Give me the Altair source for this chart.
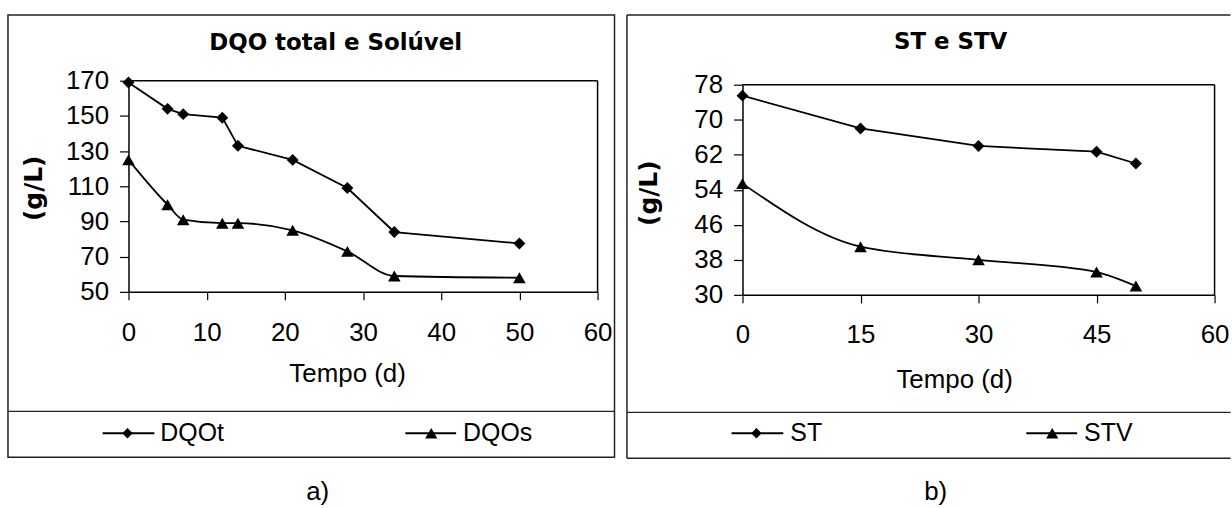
import altair as alt
import pandas as pd

# ---------------- data ----------------
dqo_dias = [0, 5, 7, 12, 14, 21, 28, 34, 50]
dqo_t = [169, 154, 151, 149, 133, 125, 109, 84, 77.5]
dqo_s = [125, 99.5, 91, 89, 89, 85, 73, 59, 58]

st_dias = [0, 15, 30, 45, 50]
st = [75.5, 68, 64, 62.7, 60]
stv = [55.4, 41, 38, 35.2, 32]

left_y_ticks = [50, 70, 90, 110, 130, 150, 170]
left_x_ticks = [0, 10, 20, 30, 40, 50, 60]
right_y_ticks = [30, 38, 46, 54, 62, 70, 78]
right_x_ticks = [0, 15, 30, 45, 60]

FONT = "Liberation Sans"
BOLD_FONT = "DejaVu Sans"
INK = "black"
FRAME = "#222222"


def panel(dias, s1, s2, names, title, caption, ydom, yticks, xticks, w, h, lay):
    df1 = pd.DataFrame({"dia": dias, "v": s1})
    df2 = pd.DataFrame({"dia": dias, "v": s2})
    one = pd.DataFrame({"k": [0]})
    top = lay["top"]

    xs = alt.X("dia:Q", scale=alt.Scale(domain=[0, 60], nice=False, zero=False),
               axis=alt.Axis(values=xticks, title=None, tickSize=8, labelPadding=lay["xpad"],
                             labelFontSize=26, labelFont=FONT, labelColor=INK, grid=False,
                             domainColor=INK, tickColor=INK, domainWidth=1.5, tickWidth=1.2,
                             labelFlush=False, labelOverlap=False))
    ys = alt.Y("v:Q", scale=alt.Scale(domain=ydom, nice=False, zero=False, range=[h, top]),
               axis=alt.Axis(values=yticks, title=None, tickSize=9, labelPadding=11,
                             labelFontSize=26, labelFont=FONT, labelColor=INK, grid=False,
                             domainColor=INK, tickColor=INK, domainWidth=1.5, tickWidth=1.2,
                             labelFlush=False, labelOverlap=False))

    l1 = alt.Chart(df1).mark_line(color=INK, strokeWidth=1.8).encode(x=xs, y=ys)
    p1 = alt.Chart(df1).mark_point(shape="diamond", filled=True, size=144, color=INK, opacity=1).encode(x=xs, y=ys)
    l2 = alt.Chart(df2).mark_line(color=INK, strokeWidth=1.8, interpolate="monotone").encode(x=xs, y=ys)
    p2 = alt.Chart(df2).mark_point(shape="triangle-up", filled=True, size=160, color=INK, opacity=1).encode(x=xs, y=ys)

    deco = []
    # plot-area border (top and right; left/bottom are the axis lines)
    deco.append(alt.Chart(one).mark_rule(color=INK, strokeWidth=1.5).encode(
        x=alt.value(0), x2=alt.value(w), y=alt.value(top)))
    deco.append(alt.Chart(one).mark_rule(color=INK, strokeWidth=1.5).encode(
        x=alt.value(w), y=alt.value(top), y2=alt.value(h)))

    bx0, bx1, by0, by1 = lay["box"]
    if lay["closed"]:
        deco.append(alt.Chart(one).mark_rect(fill=None, stroke=FRAME, strokeWidth=1.5).encode(
            x=alt.value(bx0), x2=alt.value(bx1), y=alt.value(by0), y2=alt.value(by1)))
    else:
        deco.append(alt.Chart(one).mark_rule(color=FRAME, strokeWidth=1.5).encode(
            x=alt.value(bx0), y=alt.value(by0), y2=alt.value(by1)))
        deco.append(alt.Chart(one).mark_rule(color=FRAME, strokeWidth=1.5).encode(
            x=alt.value(bx0), x2=alt.value(bx1), y=alt.value(by0)))
        deco.append(alt.Chart(one).mark_rule(color=FRAME, strokeWidth=1.5).encode(
            x=alt.value(bx0), x2=alt.value(bx1), y=alt.value(by1)))
    # legend separator
    deco.append(alt.Chart(one).mark_rule(color=FRAME, strokeWidth=1.2).encode(
        x=alt.value(bx0), x2=alt.value(bx1), y=alt.value(lay["sep"])))

    def txt(t, x, y, size, bold=False, align="center", baseline="alphabetic", angle=0, font=FONT):
        kw = dict(text=t, fontSize=size, font=font, color=INK, align=align, baseline=baseline)
        if bold:
            kw["fontWeight"] = "bold"
        if angle:
            kw["angle"] = angle
        return alt.Chart(one).mark_text(**kw).encode(x=alt.value(x), y=alt.value(y))

    tx, ty = lay["title"]
    deco.append(txt(title, tx, ty, 23, bold=True, font=BOLD_FONT))
    ax, ay = lay["xtitle"]
    deco.append(txt("Tempo (d)", ax, ay, 26))
    gx, gy = lay["ytitle"]
    deco.append(txt("(g/L)", gx, gy, 25, bold=True, baseline="middle", angle=270, font=BOLD_FONT))
    cx, cy = lay["caption"]
    deco.append(txt(caption, cx, cy, 26))

    # legend entries
    ly = lay["leg_y"]
    for (x0, x1, mx, tx0), shape, size, name in zip(lay["leg"], ["diamond", "triangle-up"], [110, 150], names):
        deco.append(alt.Chart(one).mark_rule(color=INK, strokeWidth=1.8).encode(
            x=alt.value(x0), x2=alt.value(x1), y=alt.value(ly)))
        deco.append(alt.Chart(one).mark_point(shape=shape, filled=True, size=size, color=INK, opacity=1).encode(
            x=alt.value(mx), y=alt.value(ly)))
        deco.append(txt(name, tx0, ly, 25, align="left", baseline="middle"))

    return alt.layer(l1, p1, l2, p2, *deco).properties(width=w, height=h)


left = panel(
    dqo_dias, dqo_t, dqo_s, ["DQOt", "DQOs"], "DQO total e Solúvel", "a)",
    [50, 170], left_y_ticks, left_x_ticks, 471, 212,
    dict(top=0, xpad=20, closed=True, box=(-121, 488, -66, 378), sep=332,
         title=(208, -31), xtitle=(220, 303), ytitle=(-95, 108), caption=(190, 421),
         leg_y=354, leg=[(-26, 26, -1, 32), (278, 329, 304, 336)]),
)

right = panel(
    st_dias, st, stv, ["ST", "STV"], "ST e STV", "b)",
    [30, 78], right_y_ticks, right_x_ticks, 474, 215,
    dict(top=4, xpad=19, closed=False, box=(-116, 490, -66, 379), sep=333,
         title=(209, -32), xtitle=(213, 309), ytitle=(-94, 113), caption=(194, 421),
         leg_y=354, leg=[(-11, 41, 14, 48), (285, 336, 311, 343)]),
)

chart = alt.hconcat(left, right, spacing=8.5).properties(
    padding={"left": 6, "top": 12, "right": 0, "bottom": 0},
    background="white",
).configure_view(stroke="transparent")

chart.save("out.html", embed_options={"renderer": "svg", "actions": False})
